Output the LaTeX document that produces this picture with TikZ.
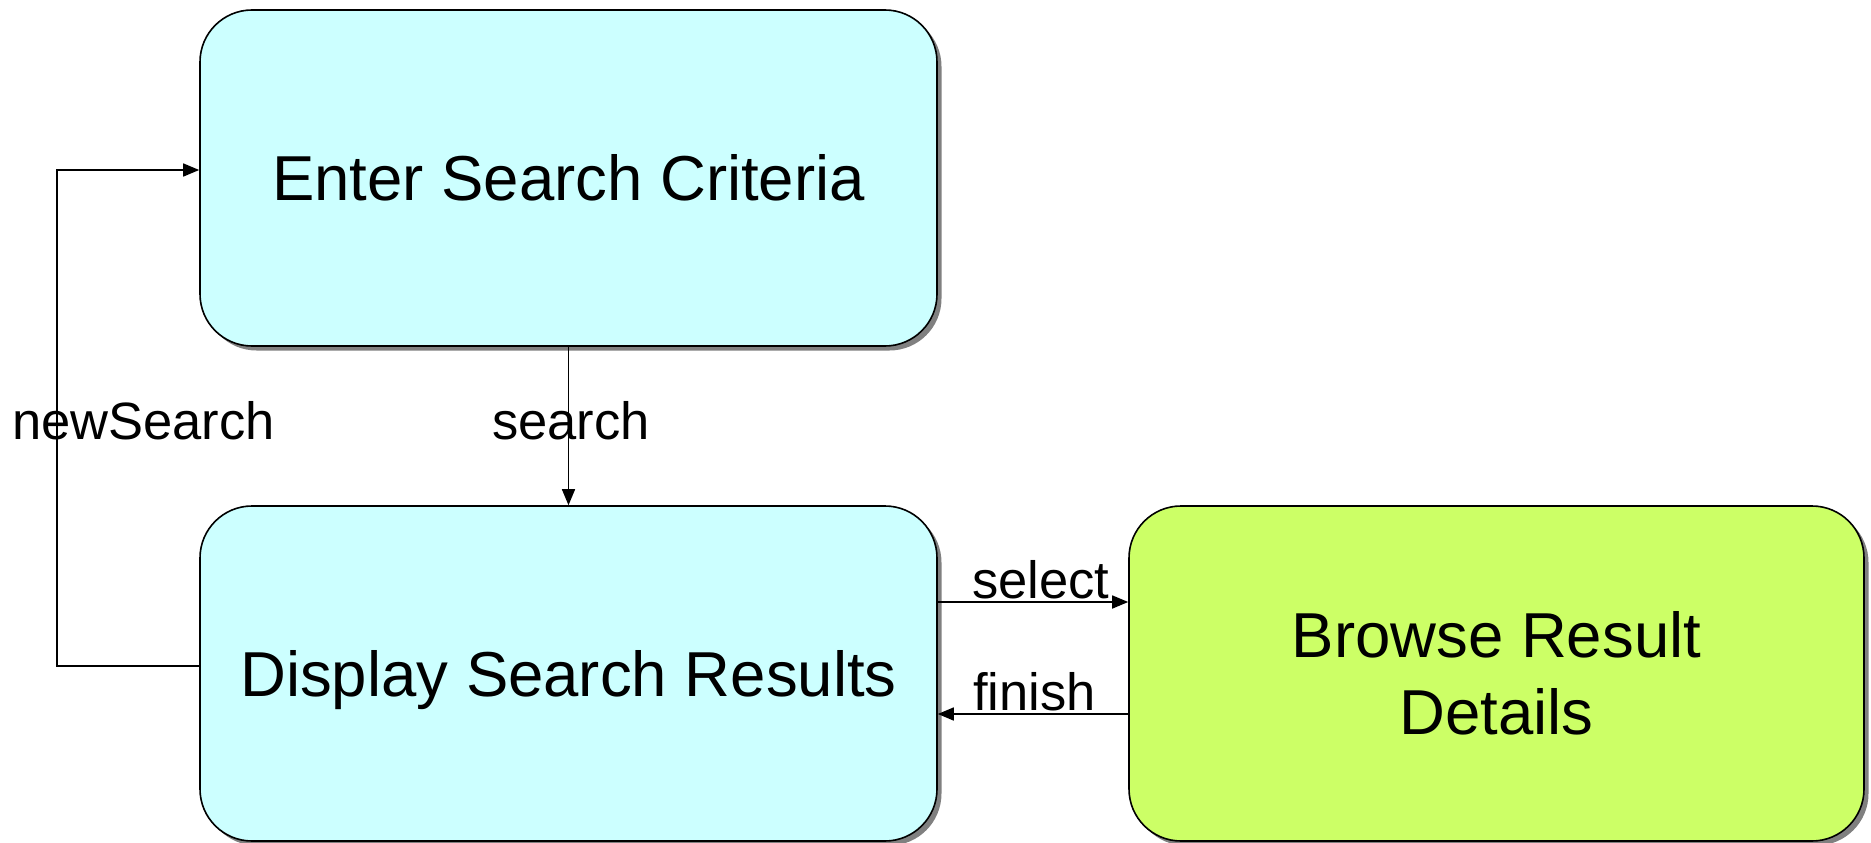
\documentclass[tikz,border=0pt]{standalone}
\usepackage{fontspec}
\setmainfont{Liberation Sans}
\usetikzlibrary{arrows.meta,shadows}
\definecolor{statecyan}{HTML}{CCFFFF}
\definecolor{stategreen}{HTML}{CCFF66}
\begin{document}
\begin{tikzpicture}[x=1pt,y=-1pt,
  statebox/.style={draw=black, line width=1.6pt, rounded corners=52pt,
    inner sep=0pt, align=center,
    font=\fontsize{63.5}{77}\selectfont,
    drop shadow={shadow xshift=4.5pt, shadow yshift=-4.5pt, fill=black!50, opacity=1}},
  flow/.style={line width=1.6pt, -{Triangle[length=16pt,width=13pt]}},
  lbl/.style={font=\fontsize{52.5}{60}\selectfont, inner sep=0pt}]
  \useasboundingbox (0,0) rectangle (1871,843);

  % states
  \node[statebox, fill=statecyan, minimum width=737pt, minimum height=336pt]
    (enter) at (568.5,178) {Enter Search Criteria};
  \node[statebox, fill=statecyan, minimum width=737pt, minimum height=335pt,
    text depth=0pt]
    (display) at (568.5,673.5) {Display Search Results};
  \node[statebox, fill=stategreen, minimum width=735pt, minimum height=335pt]
    (browse) at (1496.5,673.5) {Browse Result\\Details};

  % routing points
  \coordinate (selY) at (0,602);
  \coordinate (finY) at (0,714);
  \coordinate (loopB) at (57,666);
  \coordinate (loopT) at (57,170);

  % transitions
  \draw[flow] (enter.south) -- (display.north);
  \draw[flow] (display.east |- selY) -- (browse.west |- selY);
  \draw[flow] (browse.west |- finY) -- (display.east |- finY);
  \draw[flow] (display.west |- loopB) -- (loopB) -- (loopT) -- (enter.west |- loopT);

  % transition labels
  \node[lbl, anchor=base] (lsearch) at (571,439) {search};
  \node[lbl, anchor=base west] (lselect) at (972,598) {select};
  \node[lbl, anchor=base west] (lfinish) at (973,710) {finish};
  \node[lbl, anchor=base west] (lnew) at (12,439) {newSearch};
\end{tikzpicture}
\end{document}
